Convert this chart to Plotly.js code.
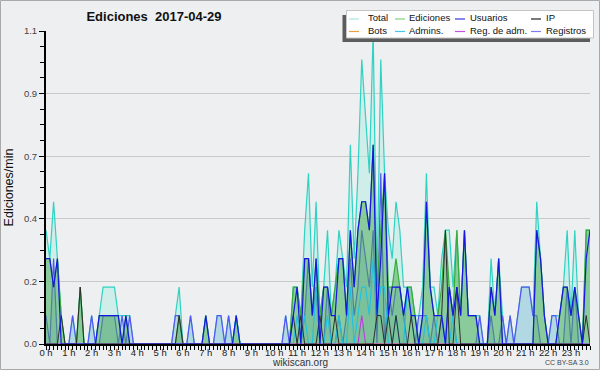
<!DOCTYPE html>
<html>
<head>
<meta charset="utf-8">
<script src="https://cdn.plot.ly/plotly-3.0.1.min.js"></script>
<style>html,body{margin:0;padding:0;background:#eeeff1;}#chart{width:600px;height:370px;}</style>
</head>
<body>
<div id="chart"></div>
<script>
// Counts of actions per 10-minute slot (slot i starts at i*10 min), 144 slots
const slotMinutes = 10;
const totalCounts = [
  4,3,5,3,1,0, 0,1,0,2,0,0,
  1,0,1,2,2,2, 2,1,1,1,1,0,
  0,0,0,0,0,0, 0,0,0,0,1,2,
  0,0,1,0,0,0, 1,0,0,1,1,0,
  1,0,1,0,0,0, 0,0,0,0,0,0,
  0,0,0,1,0,2, 2,1,4,6,2,5,
  1,2,4,1,2,4, 3,2,7,3,6,10,
  8,6,11,2,10,6, 4,3,5,4,2,2,
  2,1,1,2,6,2, 2,1,3,4,4,2,
  4,1,4,1,1,1, 1,0,0,3,1,3,
  1,0,1,0,1,2, 2,2,1,5,3,1,
  0,1,1,1,2,4, 1,4,1,0,4,4
];
const edicionesCounts = [
  3,3,2,3,1,0, 0,0,0,2,0,0,
  0,0,1,1,1,1, 1,1,0,1,0,0,
  0,0,0,0,0,0, 0,0,0,0,0,1,
  0,0,0,0,0,0, 1,0,0,0,0,0,
  0,0,1,0,0,0, 0,0,0,0,0,0,
  0,0,0,0,0,2, 2,1,3,3,1,3,
  1,2,2,1,2,3, 3,1,4,2,4,5,
  5,4,7,2,4,6, 2,2,3,2,1,2,
  2,1,0,1,5,2, 1,1,2,4,2,1,
  4,1,4,1,1,1, 0,0,0,2,1,3,
  0,0,0,0,0,0, 0,0,0,4,3,1,
  0,0,0,1,2,2, 1,2,1,0,4,4
];
const usuariosCounts = [
  3,3,2,3,0,0, 0,0,0,0,0,0,
  0,0,1,1,1,1, 1,1,0,1,0,0,
  0,0,0,0,0,0, 0,0,0,0,0,0,
  0,0,0,0,0,0, 1,0,0,0,0,0,
  0,0,1,0,0,0, 0,0,0,0,0,0,
  0,0,0,0,0,1, 2,0,3,3,1,3,
  0,2,2,1,1,3, 3,1,4,2,4,5,
  5,4,7,1,3,6, 1,2,2,2,1,2,
  1,1,0,1,5,2, 1,1,1,0,2,1,
  2,1,4,1,1,1, 0,0,0,2,1,3,
  0,0,0,0,0,0, 0,0,0,4,3,1,
  0,0,0,1,2,2, 1,2,1,0,3,4
];
const ipCounts = [
  0,0,0,0,1,0, 0,0,0,2,0,0,
  0,0,0,0,0,0, 0,0,0,0,0,0,
  0,0,0,0,0,0, 0,0,0,0,0,1,
  0,0,0,0,0,0, 0,0,0,0,0,0,
  0,0,0,0,0,0, 0,0,0,0,0,0,
  0,0,0,0,0,1, 0,1,0,0,0,0,
  1,0,0,0,1,0, 0,0,0,0,0,0,
  0,0,0,1,1,0, 1,0,1,0,0,0,
  1,0,0,0,0,0, 0,0,1,4,0,0,
  2,0,0,0,0,0, 0,0,0,0,0,0,
  0,0,0,0,0,0, 0,0,0,0,0,0,
  0,0,0,0,0,0, 0,0,0,0,1,0
];
const botsCounts = new Array(144).fill(0);
const adminsCounts = [
  0,0,0,0,0,0, 0,0,0,0,0,0,
  0,0,0,0,0,0, 0,0,0,0,0,0,
  0,0,0,0,0,0, 0,0,0,0,0,0,
  0,0,0,0,0,0, 0,0,0,0,0,0,
  0,0,1,0,0,0, 0,0,0,0,0,0,
  0,0,0,0,0,0, 1,0,1,0,0,2,
  0,0,1,0,0,1, 0,0,2,0,1,2,
  2,1,3,1,2,2, 0,0,1,0,0,2,
  1,0,0,0,1,0, 0,1,1,0,0,1,
  0,0,0,0,0,0, 0,0,0,0,0,0,
  0,0,0,0,0,0, 0,0,0,0,0,0,
  0,0,0,0,0,0, 0,0,0,0,0,0
];
const regAdmCounts = [
  0,0,0,0,0,0, 0,0,0,0,0,0,
  0,0,0,0,0,0, 0,0,0,0,0,0,
  0,0,0,0,0,0, 0,0,0,0,0,0,
  0,0,0,0,0,0, 0,0,0,0,0,0,
  0,0,0,0,0,0, 0,0,0,0,0,0,
  0,0,0,0,0,0, 0,0,0,0,0,0,
  0,0,0,0,0,0, 0,0,0,0,0,1,
  0,0,0,0,0,0, 0,0,0,0,0,0,
  0,0,0,0,0,0, 0,0,0,0,0,0,
  0,0,0,0,0,0, 0,0,0,0,0,0,
  0,0,0,0,0,0, 0,0,0,0,0,0,
  0,0,0,0,0,0, 0,0,0,0,0,0
];
const registrosCounts = [
  1,0,3,0,0,0, 0,1,0,0,0,0,
  1,0,0,1,1,1, 1,0,1,0,1,0,
  0,0,0,0,0,0, 0,0,0,0,1,1,
  0,0,1,0,0,0, 0,0,0,1,1,0,
  1,0,0,0,0,0, 0,0,0,0,0,0,
  0,0,0,1,0,0, 0,0,1,3,1,2,
  0,0,2,0,0,1, 0,1,3,1,2,4,
  3,2,4,0,6,0, 2,1,2,2,1,0,
  0,0,1,1,1,0, 1,0,1,0,2,1,
  0,0,0,0,0,0, 1,0,0,1,0,0,
  1,0,1,0,1,2, 2,2,1,1,0,0,
  0,1,1,0,0,2, 0,2,0,0,0,0
];
const hourVals = [0,1,2,3,4,5,6,7,8,9,10,11,12,13,14,15,16,17,18,19,20,21,22,23];
const hourLabels = ['0 h','1 h','2 h','3 h','4 h','5 h','6 h','7 h','8 h','9 h','10 h','11 h','12 h','13 h','14 h','15 h','16 h','17 h','18 h','19 h','20 h','21 h','22 h','23 h'];
const yTickVals = [0, 0.22, 0.44, 0.66, 0.88, 1.1];
const yTickLabels = ['0.0','0.2','0.4','0.7','0.9','1.1'];
const legendNames = ['Total','Ediciones','Usuarios','IP','Bots','Admins.','Reg. de adm.','Registros'];

// x in hours, y in edits per minute
const xs = totalCounts.map((_, i) => i * slotMinutes / 60);
const perMin = arr => arr.map(c => c / slotMinutes);

const FONT = 'Liberation Sans, Arial, sans-serif';
const colors = {
  total: '#30d2c2', ediciones: '#3aac3a', usuarios: '#1616e4', ip: '#2e2e2e',
  bots: '#f09a30', admins: '#1ec2e2', regadm: '#c03ae0', registros: '#5656f4'
};
const swatch = {
  total: '#a6e6df', ediciones: '#80cf80', usuarios: '#3636e0', ip: '#222222',
  bots: '#f0a040', admins: '#40c8e6', regadm: '#c850e0', registros: '#7c7cf0'
};

function line(name, y, color, width, fill, fillcolor) {
  const t = {x: xs, y: perMin(y), name: name, type: 'scatter', mode: 'lines',
    line: {color: color, width: width, shape: 'linear'}, hoverinfo: 'skip', showlegend: false};
  if (fill) { t.fill = 'tozeroy'; t.fillcolor = fillcolor; }
  return t;
}

const traces = [
  line('Total', totalCounts, colors.total, 1.2, true, 'rgba(175,235,225,0.5)'),
  line('Registros', registrosCounts, colors.registros, 1.2, true, 'rgba(150,195,222,0.5)'),
  line('Ediciones', edicionesCounts, colors.ediciones, 1.2, true, 'rgba(70,170,80,0.5)'),
  line('Bots', botsCounts, colors.bots, 1.1),
  line('Admins.', adminsCounts, colors.admins, 1.1),
  line('Reg. de adm.', regAdmCounts, colors.regadm, 1.1),
  line('IP', ipCounts, colors.ip, 1.0),
  line('Usuarios', usuariosCounts, colors.usuarios, 1.2)
];

// Pixel helpers for decorations (plot area: x 46..590, y 31..344)
const L = 46, T = 31, W = 544, H = 313;
const px = x => (x - L) / W;
const py = y => (T + H - y) / H;

const shapes = [
  {type:'rect', xref:'paper', yref:'paper', x0:px(0.5), x1:px(599.5), y0:py(369.5), y1:py(0.5),
   line:{color:'#a9a9a9', width:1}, fillcolor:'rgba(0,0,0,0)', layer:'above'},
  {type:'rect', xref:'paper', yref:'paper', x0:px(342.5), x1:px(590), y0:py(42), y1:py(15),
   line:{width:0}, fillcolor:'#5c5c5c', layer:'above'},
  {type:'rect', xref:'paper', yref:'paper', x0:px(346.5), x1:px(593.5), y0:py(38), y1:py(10.5),
   line:{color:'#c4c4c4', width:1}, fillcolor:'#ffffff', layer:'above'}
];
const annotations = [];
const legendCols = [[349, 367], [395, 408], [455, 469], [531, 545]];
const legendRows = [17.5, 30];
const legendKeys = ['total','ediciones','usuarios','ip','bots','admins','regadm','registros'];
legendNames.forEach((nm, k) => {
  const c = legendCols[k % 4], r = legendRows[Math.floor(k / 4)];
  shapes.push({type:'line', xref:'paper', yref:'paper', x0:px(c[0]), x1:px(c[0] + 10),
    y0:py(r + 1.5), y1:py(r + 1.5), line:{color:swatch[legendKeys[k]], width:1.2}, layer:'above'});
  annotations.push({xref:'paper', yref:'paper', x:px(c[1]), y:py(r), xanchor:'left', yanchor:'middle',
    text:nm, showarrow:false, borderpad:0, font:{family:FONT, size:9.5, color:'#111'}});
});
annotations.push({xref:'paper', yref:'paper', x:px(300), y:py(362.5), xanchor:'center', yanchor:'middle',
  text:'wikiscan.org', showarrow:false, borderpad:0, font:{family:FONT, size:10, color:'#333'}});
annotations.push({xref:'paper', yref:'paper', x:px(590), y:py(362.5), xanchor:'right', yanchor:'middle',
  text:'CC BY-SA 3.0', showarrow:false, borderpad:0, font:{family:FONT, size:7, color:'#444'}});

const layout = {
  width: 600, height: 370,
  margin: {l: L, r: 600 - L - W, t: T, b: 370 - T - H, pad: 0, autoexpand: false},
  paper_bgcolor: '#eeeff1', plot_bgcolor: '#eeeff1',
  showlegend: false,
  title: {text: '<b>Ediciones\u00a0\u00a02017-04-29</b>', font: {family: FONT, size: 13, color: '#111'},
    xref: 'container', yref: 'container', x: 154 / 600, xanchor: 'center', y: 1 - 16 / 370, yanchor: 'middle'},
  xaxis: {
    range: [0, 143 / 6], tickmode: 'array', tickvals: hourVals, ticktext: hourLabels,
    ticks: 'outside', ticklen: 4, tickwidth: 1, tickcolor: '#000', ticklabelstandoff: -5,
    showline: true, linecolor: '#000', linewidth: 2, showgrid: false, zeroline: false,
    tickfont: {family: FONT, size: 9.5, color: '#222'},
    minor: {tick0: 0, dtick: 1 / 6, ticks: 'outside', ticklen: 4, tickwidth: 1, tickcolor: '#000', showgrid: false},
    fixedrange: true
  },
  yaxis: {
    range: [0, 1.1], tickmode: 'array', tickvals: yTickVals, ticktext: yTickLabels,
    ticks: 'outside', ticklen: 5, tickwidth: 1, tickcolor: '#000',
    showline: true, linecolor: '#000', linewidth: 2, zeroline: false,
    showgrid: true, gridcolor: '#c9c9c9', gridwidth: 1,
    tickfont: {family: FONT, size: 9.5, color: '#444'},
    minor: {tick0: 0, dtick: 0.055, ticks: 'outside', ticklen: 4, tickwidth: 1, tickcolor: '#000', showgrid: false},
    title: {text: 'Ediciones/min', font: {family: FONT, size: 12.5, color: '#111'}, standoff: 8},
    fixedrange: true
  },
  shapes: shapes,
  annotations: annotations
};

Plotly.newPlot('chart', traces, layout, {displayModeBar: false, staticPlot: true});
</script>
</body>
</html>
